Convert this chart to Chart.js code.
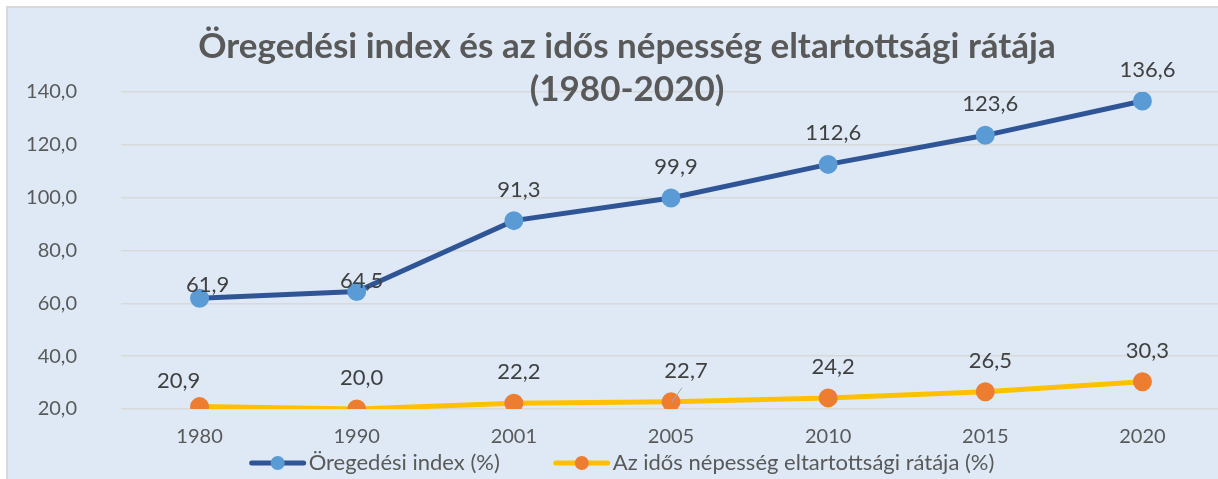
<!DOCTYPE html>
<html>
<head>
<meta charset="utf-8">
<script src="https://cdn.jsdelivr.net/npm/chart.js@4"></script>
<style>
  body { margin: 0; background: #fff; overflow: hidden; }
  .frame {
    position: absolute; left: 6px; top: 6px;
    width: 1240px; height: 490px;
    border: 2px solid #d9d9d9;
    background: #dee9f5;
  }
  #lineChart { position: absolute; left: 0; top: 0; }
</style>
</head>
<body>
<div class="frame">
  <canvas id="lineChart" width="1225" height="480"></canvas>
</div>
<script>
// 데이터
const years = ["1980", "1990", "2001", "2005", "2010", "2015", "2020"];
const agingIndex = [61.9, 64.5, 91.3, 99.9, 112.6, 123.6, 136.6];
const dependencyRatio = [20.9, 20.0, 22.2, 22.7, 24.2, 26.5, 30.3];
const seriesNames = ["Öregedési index (%)", "Az idős népesség eltartottsági rátája (%)"];
const titleLines = ["Öregedési index és az idős népesség eltartottsági rátája", "(1980-2020)"];

const FONT = "Lato, 'Open Sans', sans-serif";
const fmt = (v) => v.toFixed(1).replace('.', ',');

// 제목 (차트 영역 위에 겹쳐서 그림)
const titlePlugin = {
  id: 'overlayTitle',
  afterDraw(chart) {
    const ctx = chart.ctx;
    ctx.save();
    ctx.font = `bold 35px ${FONT}`;
    ctx.fillStyle = '#595959';
    ctx.textAlign = 'center';
    ctx.textBaseline = 'middle';
    ctx.fillText(titleLines[0], 619, 39);
    ctx.fillText(titleLines[1], 619, 82);
    ctx.restore();
  }
};

// 데이터 라벨 위치 (기본: 점 위 31px, 일부는 엑셀에서 수동으로 옮긴 것)
const labelShift = [
  [[8, -13], [5, -11], [5, -31], [5, -31], [5, -31], [5, -31], [5, -31]],
  [[-21, -26], [5, -31], [5, -31], [15, -31], [5, -31], [5, -31], [5, -31]]
];
const valueLabels = {
  id: 'valueLabels',
  afterDatasetsDraw(chart) {
    const ctx = chart.ctx;
    ctx.save();
    ctx.font = `22px ${FONT}`;
    ctx.textAlign = 'center';
    ctx.textBaseline = 'middle';
    chart.data.datasets.forEach((ds, i) => {
      chart.getDatasetMeta(i).data.forEach((pt, j) => {
        const [dx, dy] = labelShift[i][j];
        // 2005 라벨 지시선
        if (i === 1 && j === 3) {
          ctx.strokeStyle = '#a6a6a6';
          ctx.lineWidth = 1;
          ctx.beginPath();
          ctx.moveTo(pt.x + 11, pt.y - 14);
          ctx.lineTo(pt.x + 1, pt.y);
          ctx.stroke();
        }
        ctx.fillStyle = '#404040';
        ctx.fillText(fmt(ds.data[j]), pt.x + dx, pt.y + dy);
      });
    });
    ctx.restore();
  }
};

// 범례 (선 + 동그라미 마커)
const customLegend = {
  id: 'customLegend',
  afterDraw(chart) {
    const ctx = chart.ctx;
    const lineW = 56, gapText = 3, gapItem = 54;
    const y = 455;
    ctx.save();
    ctx.font = `22px ${FONT}`;
    const widths = chart.data.datasets.map(ds => lineW + gapText + ctx.measureText(ds.label).width);
    const total = widths.reduce((a, b) => a + b, 0) + gapItem * (widths.length - 1);
    let x = 614 - total / 2;
    chart.data.datasets.forEach((ds, i) => {
      ctx.strokeStyle = ds.borderColor;
      ctx.lineWidth = 5;
      ctx.lineCap = 'round';
      ctx.beginPath();
      ctx.moveTo(x + 2, y);
      ctx.lineTo(x + lineW - 2, y);
      ctx.stroke();
      ctx.fillStyle = ds.pointBackgroundColor;
      ctx.beginPath();
      ctx.arc(x + lineW / 2, y, 7, 0, Math.PI * 2);
      ctx.fill();
      ctx.fillStyle = '#595959';
      ctx.textAlign = 'left';
      ctx.textBaseline = 'middle';
      ctx.fillText(ds.label, x + lineW + gapText, y);
      x += widths[i] + gapItem;
    });
    ctx.restore();
  }
};

new Chart(document.getElementById("lineChart"), {
  type: 'line',
  data: {
    labels: years,
    datasets: [
      {
        label: seriesNames[0],
        data: agingIndex,
        borderColor: '#2f5597',
        backgroundColor: '#2f5597',
        pointBackgroundColor: '#5b9bd5',
        pointBorderColor: '#5b9bd5',
        borderWidth: 5,
        pointRadius: 7,
        pointHoverRadius: 7,
        tension: 0
      },
      {
        label: seriesNames[1],
        data: dependencyRatio,
        borderColor: '#ffc000',
        backgroundColor: '#ffc000',
        pointBackgroundColor: '#ed7d31',
        pointBorderColor: '#ed7d31',
        borderWidth: 5,
        pointRadius: 7,
        pointHoverRadius: 7,
        tension: 0
      }
    ]
  },
  options: {
    responsive: false,
    animation: false,
    layout: { padding: { top: 84, left: 0, right: 0, bottom: 39 } },
    plugins: {
      title: { display: false },
      tooltip: { enabled: false },
      legend: { display: false }
    },
    scales: {
      x: {
        offset: true,
        grid: { display: false, drawTicks: false },
        border: { display: false },
        afterFit(scale) { scale.height = 40; },
        ticks: { color: '#595959', font: { size: 20, family: FONT }, padding: 16 }
      },
      y: {
        min: 20,
        max: 140,
        afterFit(scale) { scale.width = 113; },
        grid: { color: '#d9d9d9', lineWidth: 1.5, drawTicks: false },
        border: { display: false },
        ticks: {
          stepSize: 20,
          color: '#595959',
          font: { size: 20, family: FONT },
          padding: 44,
          callback: (v) => fmt(v)
        }
      }
    }
  },
  plugins: [valueLabels, customLegend, titlePlugin]
});
</script>
</body>
</html>
